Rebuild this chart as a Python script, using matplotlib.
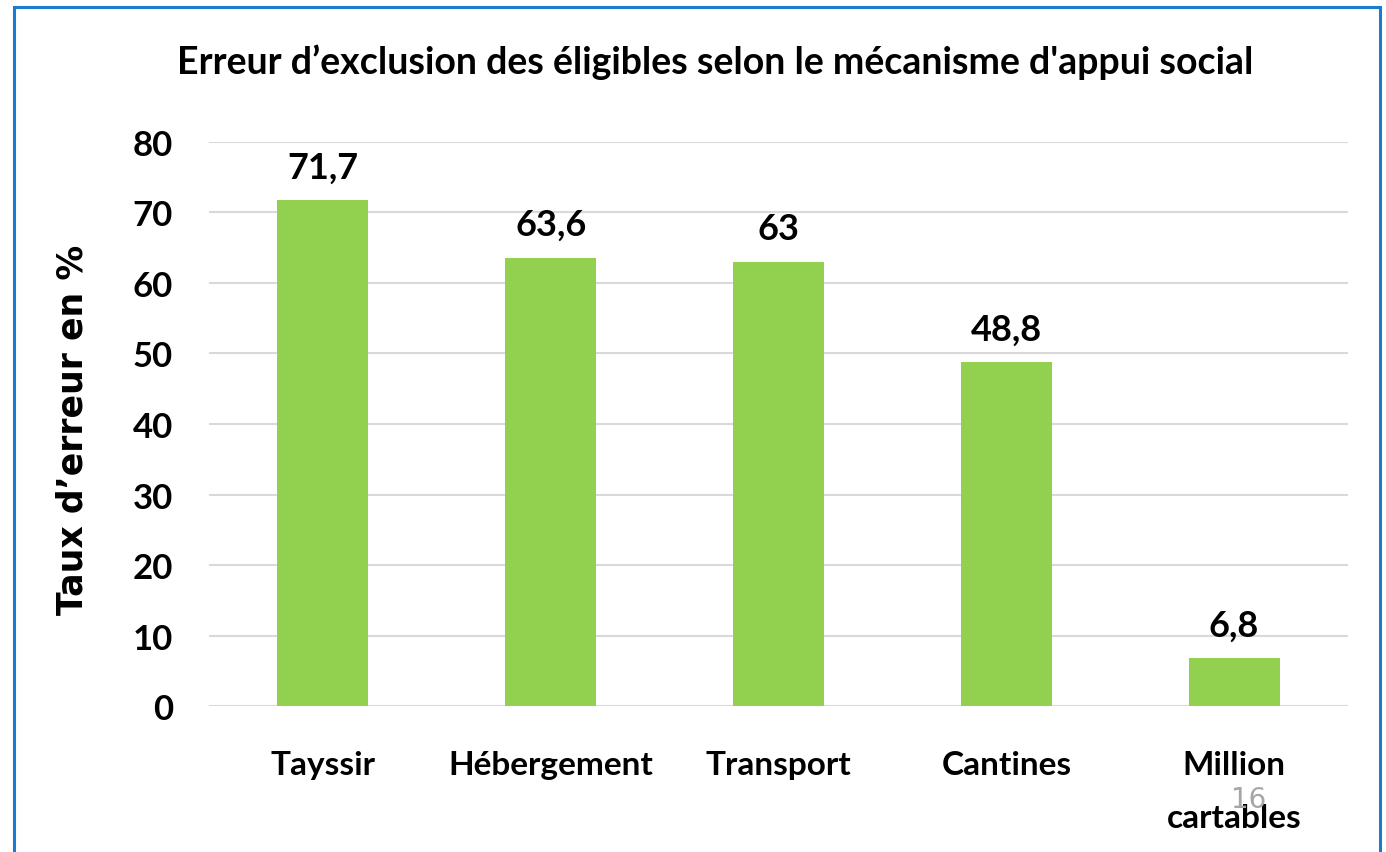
import matplotlib
matplotlib.use("Agg")
import matplotlib.pyplot as plt
from matplotlib.patches import Rectangle

# data
categories = ["Tayssir", "Hébergement", "Transport", "Cantines", "Million\ncartables"]
values = [71.7, 63.6, 63, 48.8, 6.8]
value_labels = ["71,7", "63,6", "63", "48,8", "6,8"]
yticks = [0, 10, 20, 30, 40, 50, 60, 70, 80]

narrow = ["Lato", "DejaVu Sans"]

fig = plt.figure(figsize=(13.86, 8.53), dpi=100)
ax = fig.add_axes([0.1508, 0.1711, 0.8218, 0.6613])

x = range(len(categories))
ax.bar(x, values, width=0.40, color="#92d050", zorder=3)

# value labels above the bars
for i, v in enumerate(values):
    ax.annotate(value_labels[i], (i, v), xytext=(0, 12), textcoords="offset points",
                ha="center", va="bottom", fontsize=26, fontweight="bold", family=narrow)

ax.set_ylim(0, 80)
ax.set_xlim(-0.5, len(categories) - 0.5)
ax.set_yticks(yticks)
ax.set_yticklabels([str(t) for t in yticks], fontsize=25, fontweight="bold", family=narrow)
ax.set_xticks(list(x))
ax.set_xticklabels(categories, fontsize=24, fontweight="bold", family=narrow, va="top",
                   linespacing=2.0)
ax.tick_params(axis="both", length=0)
ax.tick_params(axis="x", pad=32)
ax.tick_params(axis="y", pad=26)
ax.yaxis.grid(True, color="#d9d9d9", linewidth=1.5, zorder=0)
for s in ax.spines.values():
    s.set_visible(False)
ax.set_facecolor("none")

ax.set_ylabel("Taux d’erreur en %", fontsize=25, fontweight="bold")
ax.yaxis.set_label_coords(-0.105, 0.491)

fig.text(0.516, 0.927, "Erreur d’exclusion des éligibles selon le mécanisme d'appui social",
         ha="center", va="center", fontsize=27, fontweight="bold", family=narrow)

# page number
fig.text(0.901, 0.062, "16", ha="center", va="center", fontsize=20, color="#a6a6a6")

# blue frame
fig.patches.append(Rectangle((14 / 1386, -0.05), (1380 - 14) / 1386, 1 - 8 / 853 + 0.05,
                             transform=fig.transFigure, fill=False,
                             edgecolor="#1a7bd0", linewidth=2.2))

fig.savefig("out.png", dpi=100)
